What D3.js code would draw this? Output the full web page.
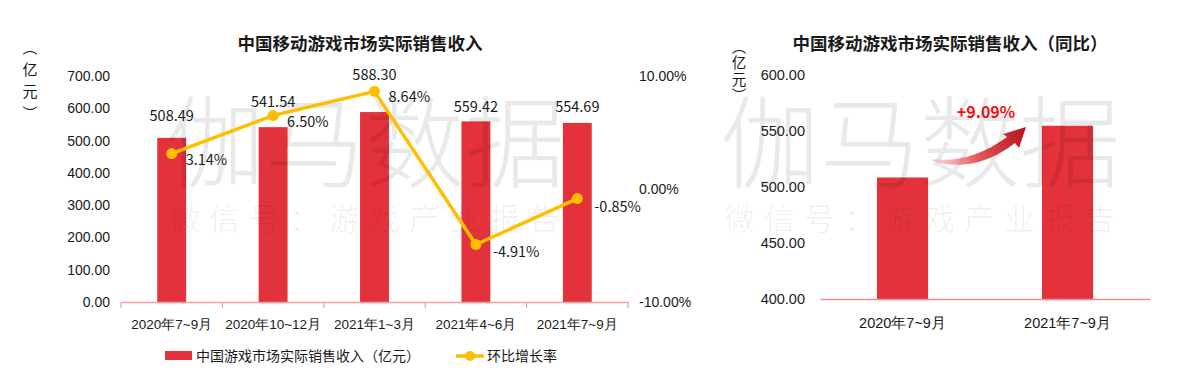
<!DOCTYPE html>
<html><head><meta charset="utf-8">
<script src="https://cdn.jsdelivr.net/npm/d3@7"></script>
<style>
html,body{margin:0;padding:0;background:#fff;}
svg{display:block;font-family:"Noto Sans CJK SC","Noto Sans",sans-serif;}
</style></head>
<body><svg id="c" width="1192" height="381"></svg>
<script>
// ---- data ----
const categories = ["2020年7~9月","2020年10~12月","2021年1~3月","2021年4~6月","2021年7~9月"];
const revenue = [508.49, 541.54, 588.30, 559.42, 554.69];
const qoqGrowth = [3.14, 6.50, 8.64, -4.91, -0.85];
const leftTicks = [0,100,200,300,400,500,600,700];
const rightTicks = [-10, 0, 10];
const yoyCategories = ["2020年7~9月","2021年7~9月"];
const yoyRevenue = [508.49, 554.69];
const yoyTicks = [400,450,500,550,600];
const yoyGrowthLabel = "+9.09%";
const titles = ["中国移动游戏市场实际销售收入","中国移动游戏市场实际销售收入（同比）"];
const legendLabels = ["中国游戏市场实际销售收入（亿元）","环比增长率"];
const unitLabel = "（亿元）";
// layout-only: vertical offsets of bar value labels above bar tops
const barLabelLift = [22, 25, 37, 14, 16];

const BAR = "#E3323B", LINE = "#FFBE00", AXIS = "#F2A0A0", TXT = "#1a1a1a";
const svg = d3.select("#c");

function watermark(cx){
  const g = svg.append("g").attr("pointer-events","none");
  g.append("text").attr("x", cx).attr("y", 180).attr("text-anchor","middle")
    .attr("font-size", 100).attr("font-weight",300).attr("fill","#000").attr("fill-opacity",0.085)
    .text("伽马数据");
  g.append("text").attr("x", cx+4).attr("y", 230).attr("text-anchor","middle")
    .attr("font-size", 31).attr("font-weight",300).attr("letter-spacing", 9)
    .attr("fill","#000").attr("fill-opacity",0.075).text("微信号：游戏产业报告");
}
function unit(cx, top, size, spacing){
  svg.append("text").attr("x", cx).attr("y", top)
    .style("writing-mode","vertical-rl").attr("font-size", size)
    .attr("letter-spacing", spacing).attr("fill", TXT).text(unitLabel);
}

// ---- left chart ----
const x = d3.scaleBand().domain(categories).range([121, 628]);
const yL = d3.scaleLinear().domain([0, 700]).range([302, 76]);
const yR = d3.scaleLinear().domain([-10, 10]).range([302, 76]);
const bw = x.bandwidth()*0.285;

svg.append("text").attr("x", 360).attr("y", 50).attr("text-anchor","middle")
  .attr("font-size", 17.5).attr("font-weight", 700).attr("fill", TXT).text(titles[0]);

unit(30, 40, 15, 7);

// left y axis
const gl = svg.append("g").attr("transform","translate(110,0)")
  .call(d3.axisLeft(yL).tickValues(leftTicks).tickFormat(d3.format(".2f")).tickSize(0).tickPadding(0));
gl.select(".domain").remove();
gl.selectAll("text").attr("font-size", 14).attr("fill", TXT).attr("font-family", null);

// right y axis
const gr = svg.append("g").attr("transform","translate(639,0)")
  .call(d3.axisRight(yR).tickValues(rightTicks).tickFormat(d=>d.toFixed(2)+"%").tickSize(0).tickPadding(0));
gr.select(".domain").remove();
gr.selectAll("text").attr("font-size", 14).attr("fill", TXT).attr("font-family", null);

// bars
svg.append("g").selectAll("rect").data(revenue).join("rect")
  .attr("x",(d,i)=>x(categories[i])+x.bandwidth()/2-bw/2).attr("width", bw)
  .attr("y", d=>yL(d)).attr("height", d=>yL(0)-yL(d)).attr("fill", BAR);

// x axis
const gx = svg.append("g").attr("transform",`translate(0,${yL(0)})`)
  .call(d3.axisBottom(x).tickSize(0).tickPadding(17));
gx.select(".domain").attr("stroke", AXIS).attr("stroke-width",1.3);
gx.selectAll("text").attr("font-size", 13.5).attr("fill", TXT).attr("font-family", null);
const bounds = categories.map(c=>x(c)).concat([x.range()[1]]);
gx.selectAll(".bt").data(bounds).join("line").attr("class","bt")
  .attr("x1",d=>d).attr("x2",d=>d).attr("y1",0).attr("y2",6).attr("stroke",AXIS).attr("stroke-width",1.2);

watermark(365);

// line
const line = d3.line().x((d,i)=>x(categories[i])+x.bandwidth()/2).y(d=>yR(d));
svg.append("path").datum(qoqGrowth).attr("d", line).attr("fill","none")
  .attr("stroke", LINE).attr("stroke-width", 3.5).attr("stroke-linejoin","round");
svg.append("g").selectAll("circle").data(qoqGrowth).join("circle")
  .attr("cx",(d,i)=>x(categories[i])+x.bandwidth()/2).attr("cy",d=>yR(d)).attr("r",5.5).attr("fill",LINE);

// bar value labels
svg.append("g").selectAll("text").data(revenue).join("text")
  .attr("x",(d,i)=>x(categories[i])+x.bandwidth()/2).attr("y",(d,i)=>yL(d)-barLabelLift[i]+5)
  .attr("text-anchor","middle").attr("font-size",14.5).attr("fill",TXT).text(d=>d.toFixed(2));
// growth labels
svg.append("g").selectAll("text").data(qoqGrowth).join("text")
  .attr("x",(d,i)=>x(categories[i])+x.bandwidth()/2+(d<0?17:14)).attr("y",d=>yR(d)+(d<0?13:11))
  .attr("font-size",14.5).attr("fill",TXT).text(d=>d.toFixed(2)+"%");

// legend
svg.append("rect").attr("x",165).attr("y",351).attr("width",27).attr("height",9).attr("fill",BAR);
svg.append("text").attr("x",196).attr("y",361).attr("font-size",14).attr("fill",TXT).text(legendLabels[0]);
svg.append("line").attr("x1",456).attr("x2",484).attr("y1",356).attr("y2",356).attr("stroke",LINE).attr("stroke-width",3.5);
svg.append("circle").attr("cx",470).attr("cy",356).attr("r",5).attr("fill",LINE);
svg.append("text").attr("x",487).attr("y",361).attr("font-size",14).attr("fill",TXT).text(legendLabels[1]);

// ---- right chart ----
const x2 = d3.scaleBand().domain(yoyCategories).range([820, 1150]);
const y2 = d3.scaleLinear().domain([400, 600]).range([299, 75]);
const bw2 = x2.bandwidth()*0.31;

svg.append("text").attr("x", 950).attr("y", 50).attr("text-anchor","middle")
  .attr("font-size", 17.5).attr("font-weight", 700).attr("fill", TXT).text(titles[1]);
unit(739, 39, 14.5, 2);
const g2 = svg.append("g").attr("transform","translate(805,0)")
  .call(d3.axisLeft(y2).tickValues(yoyTicks).tickFormat(d3.format(".2f")).tickSize(0).tickPadding(0));
g2.select(".domain").remove();
g2.selectAll("text").attr("font-size", 14.5).attr("fill", TXT).attr("font-family", null);

svg.append("g").selectAll("rect").data(yoyRevenue).join("rect")
  .attr("x",(d,i)=>x2(yoyCategories[i])+x2.bandwidth()/2-bw2/2).attr("width",bw2)
  .attr("y",d=>y2(d)).attr("height",d=>y2(400)-y2(d)).attr("fill",BAR);

const gx2 = svg.append("g").attr("transform",`translate(0,${y2(400)})`)
  .call(d3.axisBottom(x2).tickSize(0).tickPadding(19));
gx2.select(".domain").attr("stroke", "#EE8A8A").attr("stroke-width",1.3);
gx2.selectAll("text").attr("font-size", 14.5).attr("fill", TXT).attr("font-family", null);

watermark(920);

// arrow
const defs = svg.append("defs");
const grad = defs.append("linearGradient").attr("id","ag").attr("gradientUnits","userSpaceOnUse")
  .attr("x1",932).attr("y1",160).attr("x2",1026).attr("y2",130);
grad.append("stop").attr("offset","0%").attr("stop-color","#F08A8E").attr("stop-opacity",0.35);
grad.append("stop").attr("offset","45%").attr("stop-color","#E0363D").attr("stop-opacity",0.85);
grad.append("stop").attr("offset","100%").attr("stop-color","#B3131A").attr("stop-opacity",1);
svg.append("path").attr("fill","url(#ag)")
  .attr("d", "M932,159 Q970,164 1007,137 L1003,134 L1026,127 L1019,148 L1015,143 Q975,174 932,161 Z");
svg.append("text").attr("x", 986).attr("y", 118).attr("text-anchor","middle")
  .attr("font-size", 16).attr("font-weight",700).attr("fill","#F01010").text(yoyGrowthLabel);
</script></body></html>
